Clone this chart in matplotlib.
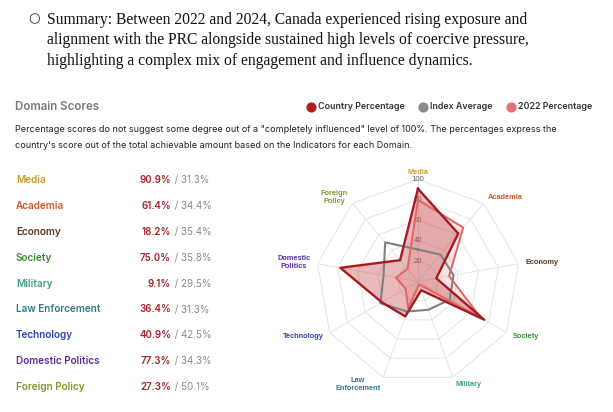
import matplotlib.pyplot as plt
import numpy as np

# datos del gráfico
domains = ["Media", "Academia", "Economy", "Society", "Military",
           "Law Enforcement", "Technology", "Domestic Politics", "Foreign Policy"]
radar_labels = ["Media", "Academia", "Economy", "Society", "Military",
                "Law\nEnforcement", "Technology", "Domestic\nPolitics", "Foreign\nPolicy"]
country_pct = [90.9, 61.4, 18.2, 75.0, 9.1, 36.4, 40.9, 77.3, 27.3]
index_avg = [31.3, 34.4, 35.4, 35.8, 29.5, 31.3, 42.5, 34.3, 50.1]
pct_2022 = [80.0, 69.0, 31.0, 71.0, 3.0, 28.0, 14.0, 22.0, 16.0]
domain_colors = ["#c9a02a", "#cf5a2e", "#5e3b1f", "#3d8a34", "#3f9f8a",
                 "#2f7a8c", "#2f45b0", "#5a2f9e", "#7d9a2e"]
ticks = [20, 40, 60, 80, 100]

summary = ["Summary: Between 2022 and 2024, Canada experienced rising exposure and",
           "alignment with the PRC alongside sustained high levels of coercive pressure,",
           "highlighting a complex mix of engagement and influence dynamics."]
note = ['Percentage scores do not suggest some degree out of a "completely influenced" level of 100%. The percentages express the',
        "country's score out of the total achievable amount based on the Indicators for each Domain."]

W, H = 613, 412
fig = plt.figure(figsize=(W / 100, H / 100), dpi=100)

# capa de texto en coordenadas de píxel
ov = fig.add_axes([0, 0, 1, 1])
ov.set_xlim(0, W)
ov.set_ylim(H, 0)
ov.axis("off")

sans = "Inter"
ov.text(34, 19, "○", fontsize=9.5, va="center", ha="center", color="#222", family="DejaVu Sans")
for i, line in enumerate(summary):
    ov.text(47, 19.5 + i * 20.7, line, fontsize=11.25, va="center", ha="left",
            family="Liberation Serif", color="#111")

ov.text(15, 107, "Domain Scores", fontsize=8.3, fontweight="semibold", color="#7a7a7a",
        va="center", family=sans)

legend_items = [("Country Percentage", "#b01e22", 311),
                ("Index Average", "#8a8a8a", 423),
                ("2022 Percentage", "#e87070", 511)]
for name, col, x in legend_items:
    ov.scatter([x], [106.5], s=40, color=col, zorder=3)
    ov.text(x + 7.5, 106.5, name, fontsize=6.4, fontweight="semibold", color="#333",
            va="center", family=sans)

for i, line in enumerate(note):
    ov.text(15, 130 + i * 15.5, line, fontsize=6.5, color="#222", va="center", family=sans)

row_y = 180
for i, d in enumerate(domains):
    y = row_y + i * 25.9
    ov.text(16, y, d, fontsize=7.2, fontweight="semibold", color=domain_colors[i],
            va="center", family=sans)
    ov.text(171, y, f"{country_pct[i]:.1f}%", fontsize=7.0, fontweight="semibold",
            color="#a8232b", va="center", ha="right", family=sans)
    ov.text(171.5, y, f" / {index_avg[i]:.1f}%", fontsize=7.0, color="#8a8a8a",
            va="center", ha="left", family=sans)

# radar
cx, cy, R = 418, 281.5, 102
ax = fig.add_axes([(cx - R) / W, (H - cy - R) / H, 2 * R / W, 2 * R / H], polar=True)
ax.set_theta_zero_location("N")
ax.set_theta_direction(-1)
ax.set_ylim(0, 100)
ax.axis("off")

n = len(domains)
ang = np.linspace(0, 2 * np.pi, n, endpoint=False)
ang_c = np.append(ang, ang[0])
close = lambda v: np.append(v, v[0])

for r in ticks:
    ax.plot(ang_c, [r] * (n + 1), color="#e4e4e4", lw=0.7, zorder=1)
for a in ang:
    ax.plot([a, a], [0, 100], color="#e4e4e4", lw=0.7, zorder=1)
for r in ticks:
    ax.text(0, r, str(r), fontsize=5.6, color="#666", ha="center", va="center",
            family="Liberation Sans", zorder=1.5)

ax.fill(ang_c, close(pct_2022), color="#e87070", alpha=0.18, lw=0, zorder=2)
ax.fill(ang_c, close(country_pct), color="#c0393d", alpha=0.35, lw=0, zorder=2)
ax.plot(ang_c, close(index_avg), color="#808080", lw=1.5, zorder=3)
ax.plot(ang_c, close(pct_2022), color="#e06464", lw=1.4, zorder=3)
ax.plot(ang_c, close(country_pct), color="#a51c20", lw=1.7, zorder=4)

for i, a in enumerate(ang):
    s = np.sin(a)
    ha = "center" if abs(s) < 0.1 else ("left" if s > 0 else "right")
    ax.text(a, 107, radar_labels[i], fontsize=5.3, fontweight="bold", color=domain_colors[i],
            ha=ha, va="center", multialignment="center", family="Liberation Sans",
            clip_on=False)

fig.savefig("out.png", dpi=100)
